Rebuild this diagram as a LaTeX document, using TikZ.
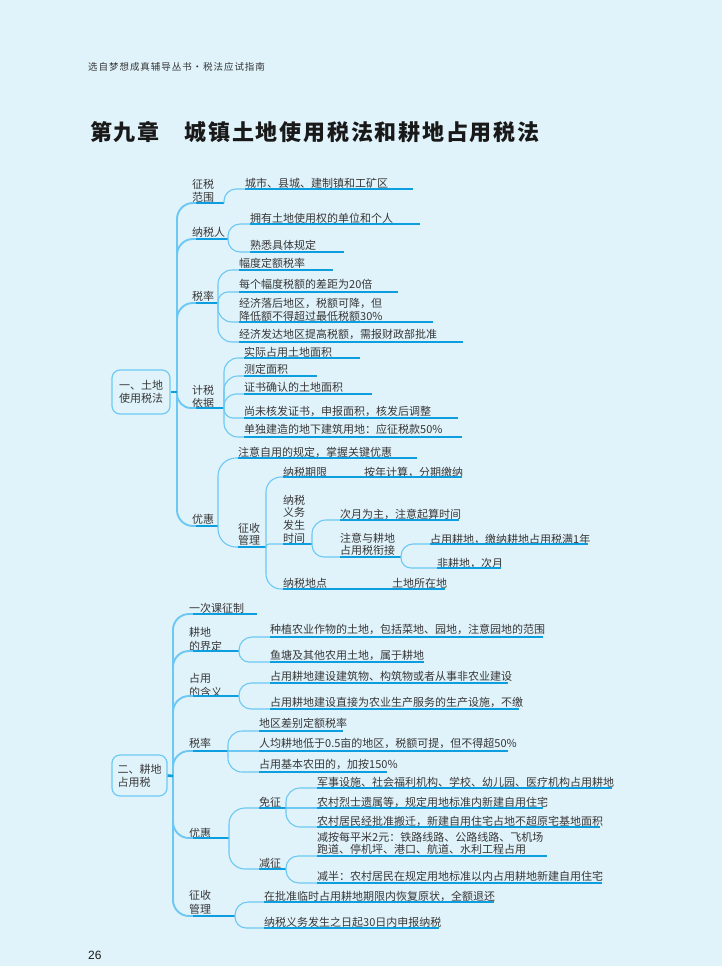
\documentclass[tikz,border=0pt]{standalone}
\usepackage{fontspec}
\newfontfamily\cjk{Noto Sans CJK SC}
\newfontfamily\lsans{Liberation Sans}
\definecolor{bgc}{RGB}{224,243,251}
\definecolor{dline}{RGB}{12,158,222}
\definecolor{lline}{RGB}{108,200,242}
\definecolor{boxc}{RGB}{110,202,243}
\definecolor{txt}{RGB}{55,55,55}
\tikzset{
 lbl/.style={inner sep=0pt, anchor=west, align=left, text=txt, font={\cjk\fontsize{11}{12.5}\selectfont}},
 f14/.style={font={\cjk\fontsize{11}{14}\selectfont}},
 f127/.style={font={\cjk\fontsize{11}{12.7}\selectfont}},
 uline/.style={draw=dline, line width=1.1pt},
 curve/.style={draw=lline, line width=1.1pt},
 trunk/.style={draw=lline, line width=1.9pt},
 rootlink/.style={draw=dline, line width=2.6pt},
 rootbox/.style={draw=boxc, line width=1.2pt, rounded corners=8pt, align=left, inner sep=0pt, text=txt, font={\cjk\fontsize{11}{13}\selectfont}},
}
% #1 opts, #2 name, #3 text x, #4 text centre y, #5 underline y, #6 underline start x, #7 underline end x, #8 text
\newcommand\mmnode[8][]{%
  \node[lbl,#1] (#2) at (#3,#4) {#8};
  \coordinate (#2-s) at (#6,#5);
  \coordinate (#2-e) at (#7,#5);
}
\newcommand\mmlink[3]{%
  \draw[curve, rounded corners=#1pt] (#2-e) |- (#3-s);
  \draw[uline] (#3-s) -- (#3-e);
}
\newcommand\mmtrunk[3]{%
  \draw[trunk, rounded corners=#1pt] (#2-e) |- (#3-s);
  \draw[uline] (#3-s) -- (#3-e);
}
\newcommand\mmstraight[2]{%
  \draw[curve] (#1-e) -- (#2-s);
  \draw[uline] (#2-s) -- (#2-e);
}
\newcommand\mmchain[2]{\draw[uline] (#1-e) -- (#2-e);}
\begin{document}
\begin{tikzpicture}[x=1pt,y=-1pt]
\useasboundingbox (0,0) rectangle (722,966);
\fill[bgc] (0,0) rectangle (722,966);

% header, title, page number
\node[anchor=west, inner sep=0pt, text=txt, font={\cjk\fontsize{9.5}{11}\selectfont\addfontfeature{LetterSpace=10}}] (hdr) at (88,67) {选自梦想成真辅导丛书・税法应试指南};
\node[anchor=west, inner sep=0pt, text=black!90, font={\cjk\bfseries\fontsize{22}{24}\selectfont\addfontfeature{LetterSpace=8}}] (title) at (90,132) {第九章\hspace{25pt}城镇土地使用税法和耕地占用税法};
\node[anchor=west, inner sep=0pt, text=black!90, font={\lsans\fontsize{12}{14}\selectfont}] (pg) at (88,955) {26};

% ===== Section 1 =====
\node[rootbox, minimum width=58pt, minimum height=44pt] (R1) at (141,392) {一、土地\\使用税法};
\coordinate (R1-e) at (177,392);

\mmnode{A1}{192}{191}{203}{196}{224}{征税\\范围}
\mmnode{A2}{192}{232}{239}{196}{228}{纳税人}
\mmnode{A3}{192}{296}{303}{196}{218}{税率}
\mmnode{A4}{192}{397}{408}{196}{224}{计税\\依据}
\mmnode{A5}{192}{519}{526}{196}{218}{优惠}
\mmtrunk{16}{R1}{A1}
\mmtrunk{16}{R1}{A2}
\mmtrunk{16}{R1}{A3}
\mmtrunk{14}{R1}{A4}
\mmtrunk{16}{R1}{A5}
\draw[rootlink] (R1.east) -- (R1-e);

\mmnode{A11}{245}{183}{189}{245}{413}{城市、县城、建制镇和工矿区}
\mmlink{12}{A1}{A11}

\mmnode{A21}{250}{218}{224}{250}{420}{拥有土地使用权的单位和个人}
\mmnode{A22}{250}{245}{252}{250}{344}{熟悉具体规定}
\mmlink{12}{A2}{A21}
\mmlink{12}{A2}{A22}

\mmnode{A31}{239}{263}{270}{239}{333}{幅度定额税率}
\mmnode{A32}{239}{284}{292}{239}{398}{每个幅度税额的差距为20倍}
\mmnode{A33}{239}{310}{322}{239}{433}{经济落后地区，税额可降，但\\降低额不得超过最低税额30\%}
\mmnode{A34}{239}{334}{342}{239}{463}{经济发达地区提高税额，需报财政部批准}
\mmlink{14}{A3}{A31}
\mmlink{10}{A3}{A32}
\mmlink{14}{A3}{A33}
\mmlink{14}{A3}{A34}

\mmnode{A41}{244}{352}{358}{244}{360}{实际占用土地面积}
\mmnode{A42}{244}{369}{376}{244}{317}{测定面积}
\mmnode{A43}{244}{387}{394}{244}{372}{证书确认的土地面积}
\mmnode{A44}{244}{411}{418}{244}{458}{尚未核发证书，申报面积，核发后调整}
\mmnode{A45}{244}{429}{437}{244}{462}{单独建造的地下建筑用地：应征税款50\%}
\mmlink{14}{A4}{A41}
\mmlink{14}{A4}{A42}
\mmlink{12}{A4}{A43}
\mmlink{9}{A4}{A44}
\mmlink{14}{A4}{A45}

\mmnode{A51}{238}{452}{458}{238}{417}{注意自用的规定，掌握关键优惠}
\mmnode{A52}{238}{534.5}{547}{238}{266}{征收\\管理}
\mmlink{18}{A5}{A51}
\mmlink{18}{A5}{A52}

\mmnode{B1}{283}{472}{477}{283}{340}{纳税期限}
\mmnode{B1a}{364}{472}{477}{364}{462}{按年计算，分期缴纳}
\mmnode[f127]{B2}{283}{519}{544}{283}{312}{纳税\\义务\\发生\\时间}
\mmnode{B3}{283}{583}{589}{283}{370}{纳税地点}
\mmnode{B3a}{392}{583}{589}{392}{445}{土地所在地}
\mmlink{15}{A52}{B1}
\mmlink{3}{A52}{B2}
\mmlink{15}{A52}{B3}
\mmchain{B1}{B1a}
\mmchain{B3}{B3a}

\mmnode{B21}{340}{514}{520}{340}{459}{次月为主，注意起算时间}
\mmnode{B22}{340}{544.5}{557}{340}{401}{注意与耕地\\占用税衔接}
\mmlink{14}{B2}{B21}
\mmlink{12}{B2}{B22}

\mmnode{B221}{430}{539}{544}{430}{588}{占用耕地，缴纳耕地占用税满1年}
\mmnode{B222}{437}{563}{568}{437}{501}{非耕地，次月}
\mmlink{12}{B22}{B221}
\mmlink{10}{B22}{B222}

% ===== Section 2 =====
\node[rootbox, minimum width=55pt, minimum height=41pt] (R2) at (139.5,775.5) {二、耕地\\占用税};
\coordinate (R2-e) at (173,776);

\mmnode{C1}{189}{608}{614}{193}{257}{一次课征制}
\mmnode[f14]{C2}{189}{639}{651}{193}{239}{耕地\\的界定}
\mmnode[f14]{C3}{189}{685}{696}{193}{239}{占用\\的含义}
\mmnode{C4}{189}{743}{751}{193}{228}{税率}
\mmnode{C5}{189}{833}{838}{193}{229}{优惠}
\mmnode[f14]{C6}{189}{902}{916}{193}{235}{征收\\管理}
\mmtrunk{16}{R2}{C1}
\mmtrunk{16}{R2}{C2}
\mmtrunk{16}{R2}{C3}
\mmtrunk{16}{R2}{C4}
\mmtrunk{16}{R2}{C5}
\mmtrunk{16}{R2}{C6}
\draw[rootlink] (R2.east) -- (R2-e);

\mmnode{C21}{270}{629}{637}{270}{543}{种植农业作物的土地，包括菜地、园地，注意园地的范围}
\mmnode{C22}{270}{655}{662}{270}{424}{鱼塘及其他农用土地，属于耕地}
\mmlink{13}{C2}{C21}
\mmlink{10}{C2}{C22}

\mmnode{C31}{270}{676}{683}{270}{508}{占用耕地建设建筑物、构筑物或者从事非农业建设}
\mmnode{C32}{270}{702}{709}{270}{519}{占用耕地建设直接为农业生产服务的生产设施，不缴}
\mmlink{12}{C3}{C31}
\mmlink{12}{C3}{C32}

\mmnode{C41}{259}{723}{731}{259}{343}{地区差别定额税率}
\mmnode{C42}{259}{743}{751}{259}{508}{人均耕地低于0.5亩的地区，税额可提，但不得超50\%}
\mmnode{C43}{259}{764}{772}{259}{387}{占用基本农田的，加按150\%}
\mmlink{14}{C4}{C41}
\mmstraight{C4}{C42}
\mmlink{14}{C4}{C43}

\mmnode{C51}{259}{802}{808}{259}{286}{免征}
\mmnode{C52}{259}{863}{869}{259}{286}{减征}
\mmlink{16}{C5}{C51}
\mmlink{16}{C5}{C52}

\mmnode{C511}{317}{782}{788}{317}{612}{军事设施、社会福利机构、学校、幼儿园、医疗机构占用耕地}
\mmnode{C512}{317}{802}{808}{317}{543}{农村烈士遗属等，规定用地标准内新建自用住宅}
\mmnode{C513}{317}{821}{827}{317}{600}{农村居民经批准搬迁，新建自用住宅占地不超原宅基地面积}
\mmlink{14}{C51}{C511}
\mmstraight{C51}{C512}
\mmlink{14}{C51}{C513}

\mmnode{C521}{317}{843.5}{856}{317}{547}{减按每平米2元：铁路线路、公路线路、飞机场\\跑道、停机坪、港口、航道、水利工程占用}
\mmnode{C522}{317}{876}{883}{317}{602}{减半：农村居民在规定用地标准以内占用耕地新建自用住宅}
\mmlink{12}{C52}{C521}
\mmlink{13}{C52}{C522}

\mmnode{C61}{264}{896}{902}{264}{494}{在批准临时占用耕地期限内恢复原状，全额退还}
\mmnode{C62}{264}{922}{928}{264}{439}{纳税义务发生之日起30日内申报纳税}
\mmlink{13}{C6}{C61}
\mmlink{11}{C6}{C62}
\end{tikzpicture}
\end{document}
